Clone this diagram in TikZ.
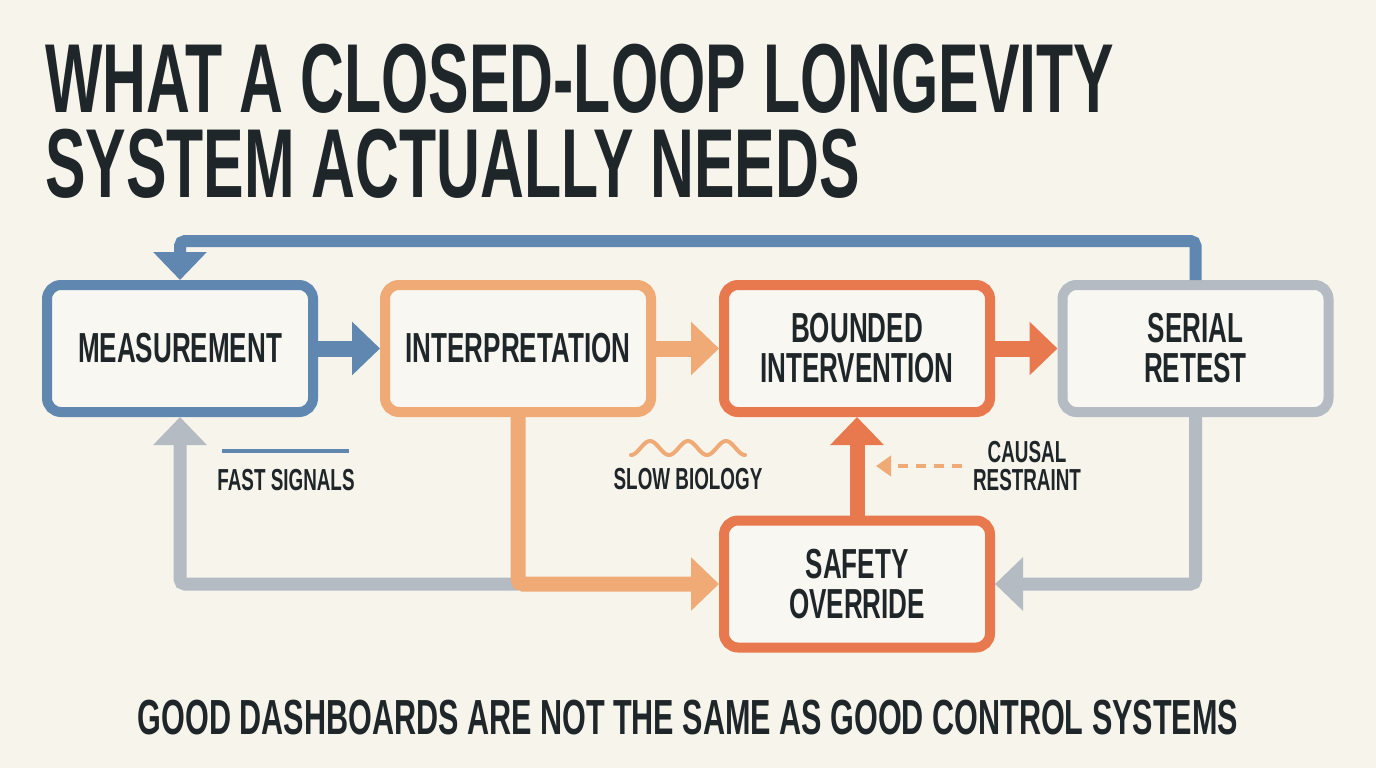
\documentclass[tikz,border=0pt]{standalone}
\usepackage{fontspec}
\setmainfont{Liberation Sans}[FakeStretch=0.62]
\usetikzlibrary{arrows.meta,calc}

\definecolor{paper}{HTML}{F7F4EC}
\definecolor{boxfill}{HTML}{F9F7F1}
\definecolor{ink}{HTML}{1F2629}
\definecolor{sigblue}{HTML}{5F87B0}
\definecolor{softorange}{HTML}{EFAA76}
\definecolor{hotorange}{HTML}{E8794E}
\definecolor{loopgray}{HTML}{B4BBC2}

\begin{document}
\begin{tikzpicture}[x=1pt, y=-1pt,
        headline/.style={anchor=base west, inner sep=0pt, text=ink, align=left,
                         font=\bfseries\fontsize{98}{85}\selectfont},
        stage/.style={draw, line width=10pt, rounded corners=14pt, fill=boxfill,
                      minimum width=266pt, minimum height=127pt, align=center,
                      text=ink, font=\bfseries\fontsize{42}{40}\selectfont},
        note/.style={inner sep=0pt, align=center, text=ink,
                     font=\bfseries\fontsize{30.4}{28}\selectfont},
        flow/.style={line width=16pt, -{Triangle[length=28pt, width=52pt]}},
        loop/.style={line width=13pt, rounded corners=5pt,
                     -{Triangle[length=28pt, width=52pt]}},
        hint/.style={line width=4pt, dash pattern=on 10pt off 8pt,
                     -{Triangle[length=15pt, width=20pt]}}
    ]
    % ---- background ----
    \fill[paper] (0,0) rectangle (1376,768);
    \useasboundingbox (0,0) rectangle (1376,768);

    % ---- title (base = last line) ----
    \node[headline] (title) at (45,197) {WHAT A CLOSED-LOOP LONGEVITY\\SYSTEM ACTUALLY NEEDS};

    % ---- stages ----
    \node[stage, draw=sigblue] (meas) at (180,348.5) {MEASUREMENT};
    \node[stage, draw=softorange] (interp) at (518,348.5) {INTERPRETATION};
    \node[stage, draw=hotorange] (bound) at (857,348.5) {BOUNDED\\INTERVENTION};
    \node[stage, draw=loopgray] (retest) at (1195.5,348.5) {SERIAL\\RETEST};
    \node[stage, draw=hotorange] (safety) at (857,584) {SAFETY\\OVERRIDE};

    % ---- side notes ----
    \node[note] (fast) at (286,480) {FAST SIGNALS};
    \node[note] (slow) at (688,479) {SLOW BIOLOGY};
    \node[note] (restraint) at (1027,466) {CAUSAL\\RESTRAINT};
    \draw[sigblue, line width=4pt] (222,451) -- (349,451);
    \draw[softorange, line width=4pt, line cap=round, domain=0:114, samples=80, smooth]
        plot (631+\x, {448+7*cos(9.4737*\x)});

    % ---- main chain ----
    \draw[flow, sigblue] (meas) -- (interp);
    \draw[flow, softorange] (interp) -- (bound);
    \draw[flow, hotorange] (bound) -- (retest);

    % ---- feedback loops ----
    \coordinate (topline) at (0,241);
    \coordinate (junction) at (interp.south |- safety.west);
    \draw[loop, sigblue, line width=12pt] (retest.north) -- (retest.north |- topline) -| (meas.north);
    \draw[loop, loopgray] (retest.south) |- (safety.east);
    \draw[loop, loopgray] (junction) -| (meas.south);
    \draw[loop, softorange, line width=15pt] (interp.south) |- (safety.west);
    \draw[flow, hotorange, line width=15pt] (safety) -- (bound);

    % ---- causal restraint hint ----
    \coordinate (dashtip) at (876,466);
    \draw[hint, softorange, shorten <=11pt] (restraint.west) -- (dashtip);

    % ---- footer ----
    \node[inner sep=0pt, text=ink, font=\bfseries\fontsize{49.3}{49}\selectfont] (footer)
        at (688,717.5) {GOOD DASHBOARDS ARE NOT THE SAME AS GOOD CONTROL SYSTEMS};
\end{tikzpicture}
\end{document}
